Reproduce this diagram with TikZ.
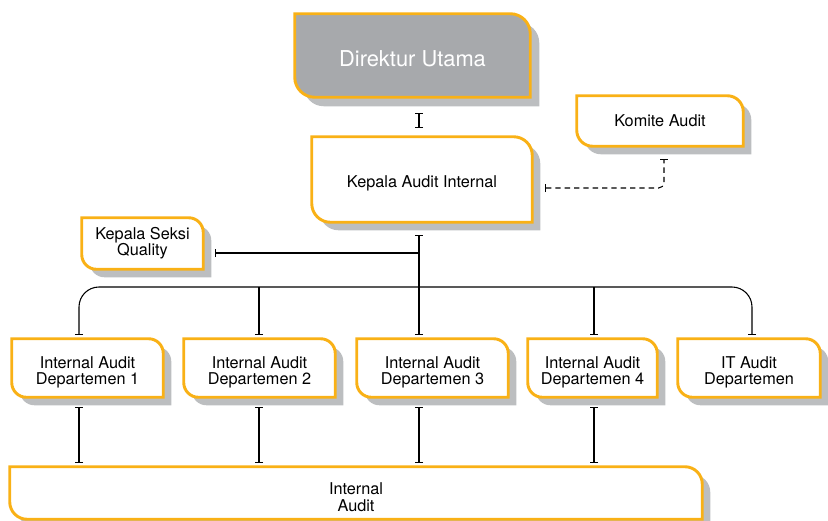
\documentclass[tikz,border=0pt]{standalone}
\usepackage{fontspec}
\setmainfont{TeX Gyre Heros}
\usetikzlibrary{arrows.meta,backgrounds}
\definecolor{jingga}{HTML}{F9B116}
\definecolor{abu}{HTML}{A7A9AC}
\definecolor{abumuda}{HTML}{BCBEC0}
% bentuk kotak: #1 simpul, #2 geser, #3 jari-jari sudut
\newcommand{\bentuk}[3]{([shift={(#2,#2)}]#1.north west)
  -- ([shift={(#2,#2)},xshift=-#3]#1.north east)
  arc[start angle=90,end angle=0,radius=#3]
  -- ([shift={(#2,#2)}]#1.south east)
  -- ([shift={(#2,#2)},xshift=#3]#1.south west)
  arc[start angle=270,end angle=180,radius=#3] -- cycle}
% penyangga agar teks sedikit turun
\newcommand{\atas}[1][15pt]{\rule{0pt}{#1}}
\begin{document}
\begin{tikzpicture}[x=0.75pt,y=-0.75pt,
    kotak/.style={align=center,inner sep=0pt,font=\fontsize{12.2}{11.8}\selectfont},
    tepi/.style={draw=jingga,line width=2.2pt},
    bayang/.style={fill=abumuda},
    garis/.style={line width=0.8pt},
    ujung/.style={garis,{Bar[width=6pt]}-{Bar[width=6pt]}}]
  \useasboundingbox (0,0) rectangle (828,521);

  % Simpul
  \node[kotak,minimum width=176.25pt,minimum height=62.25pt,text=white,
    font=\fontsize{16.4}{18}\selectfont] (dir) at (412.5,55.5) {\atas[17.5pt]Direktur Utama};
  \node[kotak,minimum width=165pt,minimum height=63.75pt] (kai) at (422,179.5) {\atas Kepala Audit Internal};
  \node[kotak,minimum width=124.5pt,minimum height=37.5pt] (komite) at (660,121) {Komite Audit};
  \node[kotak,minimum width=90.75pt,minimum height=38.25pt] (kss) at (142.5,243.5) {Kepala Seksi\\Quality};
  \node[kotak,minimum width=113.25pt,minimum height=43.5pt] (dep1) at (87.5,368) {\atas Internal Audit\\Departemen 1};
  \node[kotak,minimum width=113.25pt,minimum height=43.5pt] (dep2) at (259.5,368) {\atas Internal Audit\\Departemen 2};
  \node[kotak,minimum width=113.25pt,minimum height=43.5pt] (dep3) at (432.5,368) {\atas Internal Audit\\Departemen 3};
  \node[kotak,minimum width=96.75pt,minimum height=43.5pt] (dep4) at (592.5,368) {\atas Internal Audit\\Departemen 4};
  \node[kotak,minimum width=106.5pt,minimum height=43.5pt] (it) at (749,368) {\atas IT Audit\\Departemen};
  \node[kotak,minimum width=519pt,minimum height=39pt,
    font=\fontsize{12.2}{12.5}\selectfont] (ia) at (356,493) {\atas Internal\\Audit};

  % Kotak dan bayangan
  \begin{scope}[on background layer]
    \fill[bayang] \bentuk{dir}{9}{15pt};
    \draw[tepi,fill=abu] \bentuk{dir}{0}{15pt};
    \foreach \n/\r in {kai/14pt,komite/12pt,kss/11pt,dep1/11pt,dep2/11pt,
        dep3/11pt,dep4/11pt,it/11pt,ia/13pt}{
      \fill[bayang] \bentuk{\n}{8}{\r};
      \draw[tepi,fill=white] \bentuk{\n}{0}{\r};}
  \end{scope}

  % Titik cabang pada rel
  \coordinate (j1) at (79,287);
  \coordinate (j2) at (259,287);
  \coordinate (j3) at (419,287);
  \coordinate (j4) at (594,287);
  \coordinate (j5) at (752,287);

  % Garis penghubung
  \draw[ujung,shorten <=12pt,shorten >=6.75pt] (j3 |- dir.south) -- (j3 |- kai.north);
  \draw[ujung,dash pattern=on 4pt off 3pt,rounded corners=4pt]
    ([shift={(13,8.5)}]kai.east) -| ([shift={(4,13)}]komite.south);
  \draw[ujung,shorten <=9.75pt,shorten >=3pt] (j3 |- kai.south) -- (j3 |- dep3.north);
  \draw[garis,{Bar[width=6pt]}-] ([shift={(12,9.5)}]kss.east) -- ([shift={(0,9.5)}]kss.east -| j3);
  \draw[ujung,rounded corners=15pt,shorten <=3pt,shorten >=3pt]
    (j1 |- dep1.north) |- (j3) -| (j5 |- it.north);
  \foreach \j/\d in {j2/dep2,j4/dep4}
    \draw[garis,-{Bar[width=6pt]},shorten >=3pt] (\j) -- (\j |- \d.north);
  \foreach \j/\d in {j1/dep1,j2/dep2,j3/dep3,j4/dep4}
    \draw[ujung,shorten <=7.5pt,shorten >=3pt] (\j |- \d.south) -- (\j |- ia.north);
\end{tikzpicture}
\end{document}
